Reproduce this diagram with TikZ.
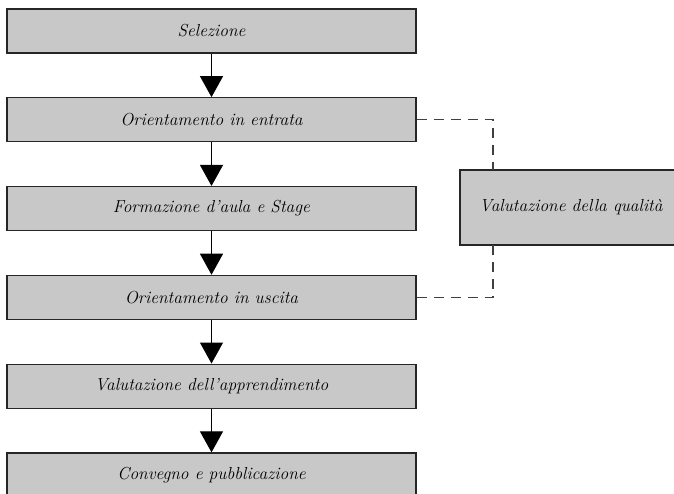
\documentclass[tikz,border=0pt]{standalone}
\usetikzlibrary{arrows.meta}

\definecolor{boxgray}{RGB}{200,200,200}
\definecolor{linegray}{RGB}{64,64,64}

\tikzset{
    fase/.style={draw=black!85, fill=boxgray, line width=1.3pt, minimum width=409pt, minimum height=44pt, inner sep=0pt, font=\fontsize{17.4}{20}\selectfont\itshape},
    freccia/.style={line width=1pt, -{Triangle[width=23pt,length=21pt]}},
    tratteggio/.style={draw=linegray, line width=1.3pt, dash pattern=on 10pt off 7pt}
}

\begin{document}
\begin{tikzpicture}[x=1pt, y=-1pt]
        \useasboundingbox (0,0) rectangle (674,494);

        %fasi
        \node[fase] (sel) at (211.5,31) {Selezione};
        \node[fase] (entrata) at (211.5,119.8) {Orientamento in entrata};
        \node[fase] (aula) at (211.5,208.6) {Formazione d'aula e Stage};
        \node[fase] (uscita) at (211.5,297.4) {Orientamento in uscita};
        \node[fase] (appr) at (211.5,386.2) {Valutazione dell'apprendimento};
        \node[fase] (conv) at (211.5,475) {Convegno e pubblicazione};

        %qualita
        \node[fase, minimum width=222pt, minimum height=75pt] (qual) at (571,207.5) {Valutazione della qualità};

        %frecce
        \draw[freccia] (sel) -- (entrata);
        \draw[freccia] (entrata) -- (aula);
        \draw[freccia] (aula) -- (uscita);
        \draw[freccia] (uscita) -- (appr);
        \draw[freccia] (appr) -- (conv);

        %collegamenti tratteggiati
        \coordinate (qtop) at (493,170);
        \coordinate (qbot) at (493,245);
        \draw[tratteggio] (entrata.east) -| (qtop);
        \draw[tratteggio] (uscita.east) -| (qbot);
    \end{tikzpicture}
\end{document}
